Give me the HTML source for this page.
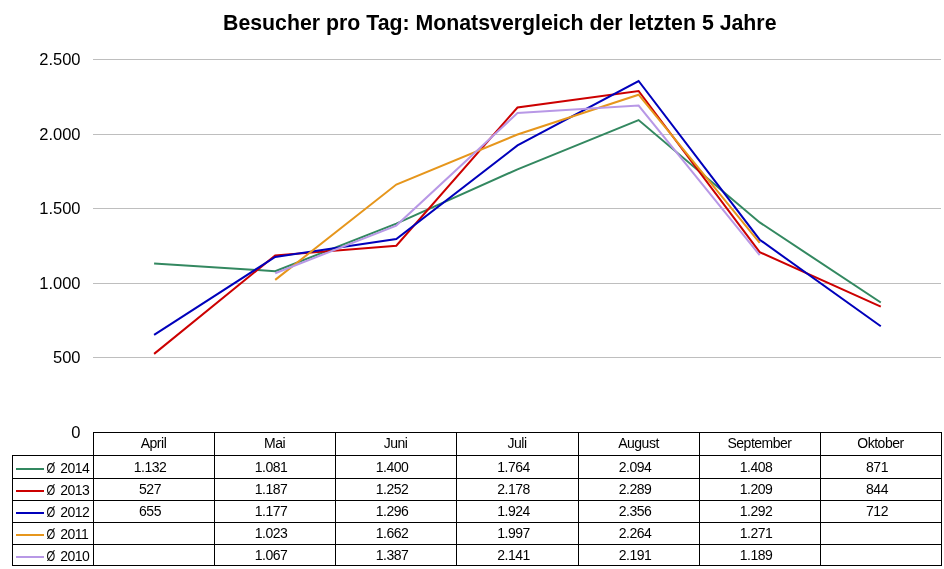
<!DOCTYPE html>
<html><head><meta charset="utf-8">
<style>
html,body{margin:0;padding:0;background:#fff;}
body{width:944px;height:569px;overflow:hidden;position:relative;}
svg{position:absolute;left:0;top:0;}
text{font-family:"Liberation Sans",Arial,sans-serif;fill:#000;}
.t{font-size:21.3px;font-weight:bold;}
.ax{font-size:16.5px;}
.tb{font-size:14px;letter-spacing:-0.5px;}
</style></head>
<body>
<svg width="944" height="569" viewBox="0 0 944 569">
<text class="t" x="223" y="30">Besucher pro Tag: Monatsvergleich der letzten 5 Jahre</text>
<g class="ax" text-anchor="end">
<text x="80.5" y="65">2.500</text>
<text x="80.5" y="140">2.000</text>
<text x="80.5" y="214">1.500</text>
<text x="80.5" y="289">1.000</text>
<text x="80.5" y="363">500</text>
<text x="80.5" y="438">0</text>
</g>
<g stroke="#bebebe" stroke-width="1" shape-rendering="crispEdges">
<line x1="93" y1="59.5" x2="941" y2="59.5"/>
<line x1="93" y1="134.5" x2="941" y2="134.5"/>
<line x1="93" y1="208.5" x2="941" y2="208.5"/>
<line x1="93" y1="283.5" x2="941" y2="283.5"/>
<line x1="93" y1="357.5" x2="941" y2="357.5"/>
</g>
<g fill="none" stroke-width="2" stroke-linejoin="miter">
<polyline stroke="#338860" points="154.1,263.6 275.2,271.2 396.3,223.6 517.5,169.3 638.6,120.1 759.7,222.4 880.8,302.5"/>
<polyline stroke="#cc0000" points="154.1,353.9 275.2,255.4 396.3,245.7 517.5,107.5 638.6,91.0 759.7,252.1 880.8,306.6"/>
<polyline stroke="#0000bb" points="154.1,334.8 275.2,256.9 396.3,239.1 517.5,145.4 638.6,81.0 759.7,239.7 880.8,326.3"/>
<polyline stroke="#e6961c" points="275.2,279.9 396.3,184.5 517.5,134.5 638.6,94.7 759.7,242.9"/>
<polyline stroke="#b898e6" points="275.2,273.3 396.3,225.6 517.5,113.1 638.6,105.6 759.7,255.1"/>
</g>
<!-- table -->
<g stroke="#000" stroke-width="1" shape-rendering="crispEdges">
<line x1="93" y1="432.5" x2="942" y2="432.5"/>
<line x1="12" y1="455.5" x2="942" y2="455.5"/>
<line x1="12" y1="478.5" x2="942" y2="478.5"/>
<line x1="12" y1="500.5" x2="942" y2="500.5"/>
<line x1="12" y1="522.5" x2="942" y2="522.5"/>
<line x1="12" y1="544.5" x2="942" y2="544.5"/>
<line x1="12" y1="565.5" x2="942" y2="565.5"/>
<line x1="12.5" y1="455" x2="12.5" y2="566"/>
<line x1="93.5" y1="432" x2="93.5" y2="566"/>
<line x1="214.5" y1="432" x2="214.5" y2="566"/>
<line x1="335.5" y1="432" x2="335.5" y2="566"/>
<line x1="456.5" y1="432" x2="456.5" y2="566"/>
<line x1="578.5" y1="432" x2="578.5" y2="566"/>
<line x1="699.5" y1="432" x2="699.5" y2="566"/>
<line x1="820.5" y1="432" x2="820.5" y2="566"/>
<line x1="941.5" y1="432" x2="941.5" y2="566"/>
</g>
<g stroke-width="2" shape-rendering="crispEdges">
<line x1="16" y1="469" x2="44" y2="469" stroke="#338860"/>
<line x1="16" y1="491" x2="44" y2="491" stroke="#cc0000"/>
<line x1="16" y1="513" x2="44" y2="513" stroke="#0000bb"/>
<line x1="16" y1="535" x2="44" y2="535" stroke="#e6961c"/>
<line x1="16" y1="557" x2="44" y2="557" stroke="#b898e6"/>
</g>
<g class="tb">
<text transform="translate(46.4 473) scale(0.8 1)">Ø</text><text x="60.2" y="473">2014</text>
<text transform="translate(46.4 495) scale(0.8 1)">Ø</text><text x="60.2" y="495">2013</text>
<text transform="translate(46.4 517) scale(0.8 1)">Ø</text><text x="60.2" y="517">2012</text>
<text transform="translate(46.4 539) scale(0.8 1)">Ø</text><text x="60.2" y="539">2011</text>
<text transform="translate(46.4 561) scale(0.8 1)">Ø</text><text x="60.2" y="561">2010</text>
</g>
<g class="tb" text-anchor="middle">
<text x="153.5" y="448">April</text>
<text x="274.5" y="448">Mai</text>
<text x="395.5" y="448">Juni</text>
<text x="517" y="448">Juli</text>
<text x="638.5" y="448">August</text>
<text x="759.5" y="448">September</text>
<text x="880.5" y="448">Oktober</text>
</g>
<g class="tb" text-anchor="middle">
<text x="150" y="472">1.132</text><text x="271" y="472">1.081</text><text x="392" y="472">1.400</text><text x="513.5" y="472">1.764</text><text x="635" y="472">2.094</text><text x="756" y="472">1.408</text><text x="877" y="472">871</text>
<text x="150" y="494">527</text><text x="271" y="494">1.187</text><text x="392" y="494">1.252</text><text x="513.5" y="494">2.178</text><text x="635" y="494">2.289</text><text x="756" y="494">1.209</text><text x="877" y="494">844</text>
<text x="150" y="516">655</text><text x="271" y="516">1.177</text><text x="392" y="516">1.296</text><text x="513.5" y="516">1.924</text><text x="635" y="516">2.356</text><text x="756" y="516">1.292</text><text x="877" y="516">712</text>
<text x="271" y="538">1.023</text><text x="392" y="538">1.662</text><text x="513.5" y="538">1.997</text><text x="635" y="538">2.264</text><text x="756" y="538">1.271</text>
<text x="271" y="560">1.067</text><text x="392" y="560">1.387</text><text x="513.5" y="560">2.141</text><text x="635" y="560">2.191</text><text x="756" y="560">1.189</text>
</g>
</svg>
</body></html>
